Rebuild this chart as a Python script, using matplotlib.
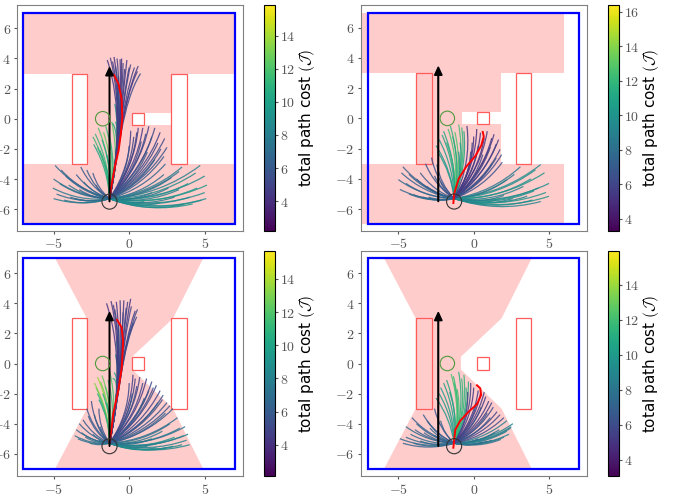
import numpy as np
import matplotlib
matplotlib.use("Agg")
from matplotlib import pyplot as plt
from matplotlib.path import Path
from matplotlib.patches import PathPatch, Rectangle, Circle, Polygon
from matplotlib.colors import Normalize
from matplotlib.cm import ScalarMappable
from matplotlib.ticker import FuncFormatter

plt.rcParams["mathtext.fontset"] = "cm"

# common start of every rollout
start = (-1.3, -5.3)

# rollouts going up through the gap share their bend points (c1x, c1y, c2x, c2y)
bends = {
    "up":   (-0.7, -2.5, -0.5, 1.0),
    "neck": (-0.9, -3.0, -0.6, -1.0),
}
# the fans are simple arcs, bowed sideways by this fraction of their length
bows = {"green": -0.08, "rup": -0.1, "rlow": -0.1, "llow": 0.1}

# rollout end points and costs (x, y, cost), grouped by family
# ---- top left ----
tl_up = [(-1.45, 3.9, 4.4), (-1.25, 4.05, 4.6), (-1.0, 4.1, 4.3), (-0.8, 4.0, 4.8), (-0.6, 3.95, 4.5),
         (-0.4, 3.7, 5.0), (-0.15, 3.9, 4.4), (0.1, 3.6, 4.7), (0.35, 3.4, 4.9), (0.55, 3.15, 4.6),
         (0.75, 3.0, 5.2), (-0.9, 3.5, 5.6), (-0.3, 3.3, 4.8), (-1.1, 3.8, 4.6), (-0.5, 4.0, 4.3),
         (0.0, 3.4, 5.0), (0.6, 3.5, 4.7)]
tl_neck = [(-0.8, 2.4, 8.5), (-0.55, 1.6, 9.0), (-0.95, 1.0, 9.6), (-0.6, 0.4, 8.8), (-1.1, -0.3, 10.0),
           (-0.7, 2.8, 7.8), (-0.85, 1.8, 9.4), (-0.45, 0.9, 8.2), (-0.9, -0.2, 10.4)]
tl_green = [(-2.25, -1.0, 11.2), (-2.05, -0.6, 12.0), (-1.8, -1.4, 10.6), (-1.55, -0.5, 11.6),
            (-2.35, -1.7, 10.2), (-1.95, -2.1, 9.8), (-1.35, -1.0, 11.0), (-1.15, -0.2, 12.4),
            (-2.1, -1.9, 10.8), (-1.7, -0.9, 12.6), (-1.5, -2.4, 10.4), (-2.4, -1.2, 11.4)]
tl_rup = [(0.1, -0.8, 4.8), (0.5, -0.9, 5.0), (0.9, -0.6, 4.6), (1.3, -0.5, 4.9), (1.7, -0.6, 5.2),
          (2.05, -0.9, 5.0), (2.35, -1.3, 5.4), (2.5, -1.9, 5.8), (0.8, -1.5, 5.3), (1.5, -1.2, 5.6),
          (2.3, -2.5, 6.2), (1.2, -2.2, 6.0), (0.3, -1.2, 5.1), (0.6, -0.6, 4.7), (1.1, -1.0, 5.3),
          (1.9, -1.6, 5.5), (2.1, -2.0, 5.9), (0.0, -1.8, 5.7), (1.7, -2.7, 6.4), (2.4, -3.0, 6.6)]
tl_rlow = [(4.7, -3.1, 8.2), (5.0, -3.8, 8.8), (5.15, -4.4, 9.4), (5.0, -4.9, 9.0), (4.8, -5.4, 8.4),
           (4.2, -5.65, 9.8), (3.6, -5.7, 8.6), (3.0, -5.2, 8.0), (2.6, -4.6, 7.6), (3.9, -4.3, 9.2),
           (4.4, -3.6, 8.9), (2.0, -5.6, 8.3), (1.0, -5.5, 7.8), (2.3, -3.7, 7.2), (3.3, -3.5, 7.5),
           (4.5, -4.6, 9.6), (4.0, -5.2, 8.7), (3.3, -4.7, 8.1), (2.8, -3.9, 7.4), (1.5, -4.9, 7.7),
           (5.1, -5.3, 9.1), (3.5, -3.2, 7.9)]
tl_llow = [(-4.9, -3.1, 7.0), (-4.5, -3.4, 6.6), (-5.0, -4.0, 7.4), (-5.05, -4.6, 7.8), (-4.8, -5.0, 7.2),
           (-4.3, -5.4, 7.6), (-3.6, -5.3, 6.8), (-3.5, -3.7, 6.4), (-3.0, -4.2, 6.9), (-2.6, -4.8, 7.1),
           (-4.0, -4.4, 7.5), (-3.2, -3.2, 6.2), (-2.4, -3.6, 6.0), (-4.6, -4.3, 7.3), (-4.2, -3.8, 6.8),
           (-3.9, -5.2, 7.0), (-3.3, -4.7, 6.5), (-2.8, -3.4, 6.3), (-5.0, -5.3, 7.7), (-2.2, -4.4, 6.1)]
tl_red_x = [-1.3, -1.15, -0.95, -0.7, -0.55, -0.45, -0.5, -0.7, -1.0]
tl_red_y = [-5.2, -4.3, -3.2, -2.1, -1.0, 0.1, 1.3, 2.3, 2.9]

# ---- top right ----
tr_green = [(-1.55, -0.5, 11.8), (-1.0, -0.4, 12.4), (-2.0, -0.85, 11.2), (-0.65, -0.85, 11.0),
            (-2.3, -1.4, 10.6), (-1.25, -0.9, 12.8), (-1.8, -1.6, 11.6), (-2.4, -2.2, 10.2),
            (-0.9, -1.6, 10.8), (-1.4, -1.2, 11.4), (-2.1, -1.1, 11.0), (-0.8, -0.6, 12.0),
            (-1.7, -0.7, 12.6), (-2.5, -1.8, 10.4), (-1.0, -2.2, 10.0)]
tr_rup = [(0.0, -1.2, 5.2), (0.45, -0.95, 5.0), (0.9, -0.85, 5.4), (1.35, -1.05, 5.6), (1.65, -1.4, 5.9),
          (1.75, -2.05, 6.2), (-0.45, -0.5, 5.6), (1.9, -2.9, 6.6), (0.3, -1.8, 5.8), (1.1, -1.9, 6.0),
          (-0.2, -2.2, 6.4), (1.5, -2.6, 6.8), (0.2, -0.7, 5.1), (0.7, -1.3, 5.3), (1.2, -1.3, 5.5),
          (1.5, -1.7, 5.7), (1.85, -2.4, 6.3), (-0.1, -1.6, 5.9), (0.6, -2.4, 6.1), (1.2, -3.0, 6.7)]
tr_rlow = [(4.45, -3.05, 9.6), (4.7, -3.6, 10.2), (5.0, -4.3, 9.8), (5.0, -5.15, 10.4), (4.45, -5.5, 9.4),
           (3.55, -5.15, 9.0), (3.1, -3.2, 8.6), (2.2, -4.05, 8.8), (3.8, -4.0, 9.9), (2.6, -5.3, 9.2),
           (1.5, -5.4, 8.4), (4.0, -4.8, 10.0), (4.3, -4.6, 9.7), (4.8, -4.9, 10.3), (3.3, -4.5, 9.3),
           (2.7, -3.7, 8.7), (2.0, -5.1, 8.9), (3.9, -5.4, 9.5), (4.1, -3.4, 9.9)]
tr_llow = [(-4.7, -3.2, 7.4), (-5.0, -4.05, 7.8), (-4.9, -4.7, 7.6), (-4.0, -5.05, 8.0), (-3.1, -4.5, 7.2),
           (-3.55, -3.6, 7.0), (-2.45, -3.05, 6.8), (-4.3, -3.7, 7.5), (-3.4, -5.2, 7.9), (-2.2, -4.2, 7.1),
           (-2.8, -2.6, 6.6), (-4.5, -4.3, 7.7), (-3.8, -4.0, 7.3), (-4.3, -5.0, 7.9), (-3.0, -5.2, 7.6),
           (-2.6, -3.8, 6.9), (-3.2, -3.0, 6.7), (-4.8, -3.6, 7.5)]
tr_red_x = [-1.35, -1.3, -1.0, -0.5, 0.1, 0.5, 0.67, 0.6]
tr_red_y = [-5.6, -5.0, -4.0, -3.2, -2.5, -1.8, -1.2, -0.9]

# ---- bottom left ----
bl_up = [(-1.5, 4.0, 4.2), (-1.2, 4.15, 4.5), (-0.85, 4.1, 4.3), (-0.6, 4.2, 4.7), (-0.35, 4.2, 4.4),
         (-0.1, 4.1, 4.6), (0.15, 3.8, 4.9), (0.4, 3.5, 4.5), (0.5, 3.1, 5.1), (-0.95, 3.6, 5.4),
         (-0.4, 3.4, 4.8), (0.3, 2.7, 5.0), (-1.05, 3.9, 4.5), (-0.2, 3.7, 4.9), (0.1, 4.3, 4.4),
         (0.55, 3.6, 5.2)]
bl_neck = [(-0.75, 2.0, 8.4), (-0.5, 1.2, 9.2), (-0.9, 0.6, 9.8), (-0.6, 0.0, 8.8), (-1.0, -0.6, 10.2),
           (-0.7, 2.6, 8.0), (-0.4, 0.6, 9.0), (-0.85, 1.5, 9.5), (-1.1, -1.0, 10.6)]
bl_green = [(-2.1, -0.9, 13.6), (-1.9, -1.2, 12.8), (-1.6, -1.5, 11.6), (-2.2, -1.6, 12.2),
            (-1.75, -2.0, 10.8), (-1.4, -1.1, 11.2), (-2.0, -2.4, 10.0), (-1.3, -0.5, 11.8),
            (-2.3, -1.3, 13.2), (-1.8, -0.8, 12.4), (-1.5, -2.6, 10.4), (-2.1, -2.0, 11.0)]
bl_rup = [(0.25, -0.75, 4.6), (0.7, -0.9, 4.8), (1.15, -1.0, 4.5), (1.5, -1.2, 5.0), (1.8, -1.45, 5.2),
          (2.05, -1.8, 4.9), (2.25, -2.1, 5.4), (2.5, -2.6, 5.7), (2.9, -3.0, 6.0), (0.5, -1.5, 5.3),
          (1.3, -1.8, 5.6), (1.9, -2.6, 6.2), (0.0, -1.3, 5.1), (0.4, -1.0, 4.7), (0.9, -1.3, 5.0),
          (1.6, -1.6, 5.2), (2.2, -2.4, 5.5), (2.7, -2.8, 5.8), (0.2, -2.0, 5.9), (1.0, -2.3, 6.0),
          (2.4, -3.3, 6.4)]
bl_rlow = [(3.8, -5.1, 8.2), (3.5, -5.4, 8.6), (3.35, -4.3, 7.8), (2.5, -5.6, 8.9), (1.8, -5.6, 8.4),
           (3.0, -4.9, 9.2), (3.9, -4.7, 8.0), (2.7, -4.0, 7.4), (3.2, -3.6, 7.0), (1.2, -5.5, 7.9),
           (2.2, -4.5, 7.6), (4.0, -5.4, 8.5), (3.6, -4.8, 8.1), (2.9, -5.5, 8.7), (2.3, -5.2, 8.3),
           (1.5, -5.0, 7.7), (3.7, -4.2, 7.3)]
bl_llow = [(-3.5, -4.4, 6.6), (-3.05, -3.75, 6.0), (-3.15, -4.6, 7.0), (-2.6, -5.3, 7.4), (-2.0, -5.1, 6.8),
           (-2.8, -3.0, 5.8), (-3.4, -5.0, 7.2), (-2.5, -2.5, 5.5), (-2.3, -3.4, 6.2), (-1.9, -4.2, 6.5),
           (-3.3, -4.0, 6.4), (-2.9, -4.9, 7.1), (-2.4, -4.7, 6.9), (-2.7, -3.5, 6.1), (-3.6, -4.8, 7.3),
           (-2.0, -3.0, 5.6)]
bl_red_x = [-1.3, -1.2, -1.05, -0.72, -0.48, -0.4, -0.5, -0.8]
bl_red_y = [-5.2, -4.6, -3.3, -1.8, -0.2, 1.5, 2.4, 2.9]

# ---- bottom right ----
br_green = [(-1.0, -0.55, 11.2), (-1.35, -0.85, 11.8), (-1.8, -1.1, 10.8), (-0.65, -0.75, 11.4),
            (-2.2, -1.6, 10.4), (-0.35, -1.2, 11.0), (-1.6, -1.9, 10.6), (-2.5, -2.3, 10.0),
            (-1.1, -1.7, 12.0), (-0.8, -1.0, 11.6), (-1.5, -0.7, 12.2), (-2.0, -1.3, 10.6),
            (-0.5, -1.6, 11.2), (-1.3, -1.3, 11.8), (-2.3, -2.0, 10.2)]
br_rup = [(0.0, -1.6, 5.2), (0.45, -2.0, 5.0), (1.0, -2.5, 5.4), (1.55, -3.2, 5.8), (2.0, -3.6, 6.2),
          (-0.2, -1.3, 5.6), (0.7, -1.9, 5.3), (1.3, -2.9, 6.0), (0.2, -2.6, 6.4), (0.9, -3.3, 6.6),
          (0.3, -1.8, 5.1), (0.8, -2.2, 5.2), (1.2, -2.6, 5.5), (1.75, -3.4, 6.0), (0.5, -2.9, 6.3),
          (1.1, -3.6, 6.5), (-0.4, -1.9, 5.7)]
br_rlow = [(2.45, -4.3, 8.4), (2.35, -4.7, 8.8), (1.8, -5.05, 8.2), (0.9, -5.15, 7.8), (2.2, -3.8, 8.6),
           (2.6, -4.0, 9.0), (1.4, -4.6, 8.0), (0.3, -5.0, 7.6), (2.2, -4.5, 8.6), (2.0, -4.9, 8.3),
           (1.2, -5.1, 8.0), (2.5, -4.2, 8.9), (1.7, -4.4, 8.1), (0.6, -5.2, 7.7)]
br_llow = [(-4.7, -5.3, 7.2), (-4.2, -4.7, 7.6), (-4.1, -3.6, 7.0), (-3.35, -3.4, 6.8), (-2.9, -4.3, 7.4),
           (-3.55, -5.15, 7.8), (-2.6, -3.0, 6.6), (-3.8, -4.0, 7.3), (-2.2, -3.8, 6.9), (-4.5, -4.2, 7.5),
           (-4.5, -4.9, 7.4), (-3.9, -4.4, 7.1), (-3.1, -3.8, 6.9), (-4.0, -5.3, 7.7), (-2.6, -4.8, 7.2),
           (-3.3, -4.6, 7.0), (-4.9, -5.0, 7.5)]
br_red_x = [-1.35, -1.33, -1.22, -0.89, -0.33, 0.22, 0.49, 0.44, 0.22]
br_red_y = [-5.6, -5.4, -4.4, -3.8, -3.2, -2.7, -2.1, -1.65, -1.45]

# colour ranges of the four colorbars
cost_ranges = [(2.2, 15.85), (3.3, 16.4), (2.1, 15.7), (3.05, 15.95)]

# hourglass-shaped safe set (bottom row)
hour_x = [-4.9, 4.9, 2.9, 0.2, 0.2, 2.9, 4.9, -4.9, -2.8, -2.8]
hour_y = [7.0, 7.0, 3.0, 0.45, -0.4, -3.0, -7.0, -7.0, -3.0, 3.0]

# obstacles (x0, y0, w, h)
obstacles = [(-3.8, -3.0, 1.0, 6.0), (2.8, -3.0, 1.0, 6.0), (0.2, -0.4, 0.8, 0.8)]
goal = (-1.75, 0.0)
robot = (-1.3, -5.5)

W, H = 678, 498
fig = plt.figure(figsize=(W / 100, H / 100), dpi=100)

pink = "#ffcccc"
cmap = plt.get_cmap("viridis")
tickfmt = FuncFormatter(lambda v, p: "$%g$" % v)


def draw_safe_box(ax, shift):
    ax.add_patch(Rectangle((-7 + shift, -7), 14, 14, color=pink, lw=0, zorder=0))
    for x0, y0, w, h in [(-7.0, -3, 4.2, 6), (2.8, -3, 4.2, 6), (0.2, -0.4, 2.6, 0.8)]:
        ax.add_patch(Rectangle((x0 + shift, y0), w, h, color="white", lw=0, zorder=0.5))


def draw_hourglass(ax, shift):
    pts = np.column_stack([np.array(hour_x) + shift, hour_y])
    ax.add_patch(Polygon(pts, closed=True, color=pink, lw=0, zorder=0))


def rollout_path(fam, x, y):
    s = np.array(start)
    e = np.array([x, y])
    if fam in bends:
        b = bends[fam]
        c1, c2 = (b[0], b[1]), (b[2], b[3])
    else:
        d = e - s
        n = np.array([-d[1], d[0]])
        c1 = s + d / 3 + bows[fam] * n
        c2 = s + 2 * d / 3 + bows[fam] * n
    return Path([s, c1, c2, e], [Path.MOVETO, Path.CURVE4, Path.CURVE4, Path.CURVE4])


def draw_panel(ax, cax, families, red_x, red_y, crange, arrow_x, region, shift, xlim, ylim):
    if region == "box":
        draw_safe_box(ax, shift)
    else:
        draw_hourglass(ax, shift)

    for x0, y0, w, h in obstacles:
        ax.add_patch(Rectangle((x0, y0), w, h, fill=False, ec="#ff5c5c", lw=0.9, zorder=1))

    norm = Normalize(*crange)
    for fam, rollouts in families.items():
        for x, y, c in rollouts:
            ax.add_patch(PathPatch(rollout_path(fam, x, y), fc="none", ec=cmap(norm(c)),
                                   lw=0.9, alpha=0.85, zorder=2))

    ax.plot(red_x, red_y, color="red", lw=1.4, zorder=4)
    ax.arrow(arrow_x, -5.5, 0, 8.9, width=0.04, head_width=0.5, head_length=0.55,
             length_includes_head=True, color="black", zorder=5)
    ax.add_patch(Circle(robot, 0.5, fill=False, ec="#333333", lw=0.8, zorder=5))
    ax.add_patch(Circle(goal, 0.48, fill=False, ec="#4f9a3c", lw=0.8, zorder=5))
    ax.add_patch(Rectangle((-7, -7), 14, 14, fill=False, ec="blue", lw=1.6, zorder=6))

    ax.set_xlim(*xlim)
    ax.set_ylim(*ylim)
    ax.set_xticks([-5, 0, 5])
    ax.set_yticks([-6, -4, -2, 0, 2, 4, 6])
    ax.xaxis.set_major_formatter(tickfmt)
    ax.yaxis.set_major_formatter(tickfmt)
    ax.tick_params(labelsize=10, colors="#555555", length=2.5, pad=2)
    for s in ax.spines.values():
        s.set_color("#808080")

    cb = fig.colorbar(ScalarMappable(norm=norm, cmap=cmap), cax=cax)
    cb.ax.yaxis.set_major_formatter(tickfmt)
    cb.ax.tick_params(labelsize=10, colors="#555555", length=2.5, pad=1)
    cb.outline.set_linewidth(0.8)
    cb.set_label(r"total path cost $(\mathcal{J})$", fontsize=11, labelpad=1.5)


def frac(l, t, w, h):
    return [l / W, (H - t - h) / H, w / W, h / H]


ax1 = fig.add_axes(frac(17.3, 5, 226, 226))
ax2 = fig.add_axes(frac(360.7, 5, 226, 226))
ax3 = fig.add_axes(frac(17.3, 250.7, 226, 225.6))
ax4 = fig.add_axes(frac(360.7, 250.7, 226, 225.6))
cax1 = fig.add_axes(frac(264, 5, 11, 226))
cax2 = fig.add_axes(frac(607.7, 5, 11, 226))
cax3 = fig.add_axes(frac(264, 250.7, 11, 225.6))
cax4 = fig.add_axes(frac(607.7, 250.7, 11, 225.6))

draw_panel(ax1, cax1, {"llow": tl_llow, "rlow": tl_rlow, "green": tl_green, "neck": tl_neck,
                       "rup": tl_rup, "up": tl_up},
           tl_red_x, tl_red_y, cost_ranges[0], -1.3, "box", 0.0, (-7.4, 7.55), (-7.45, 7.55))
draw_panel(ax2, cax2, {"llow": tr_llow, "rlow": tr_rlow, "green": tr_green, "rup": tr_rup},
           tr_red_x, tr_red_y, cost_ranges[1], -2.35, "box", -1.0, (-7.5, 7.5), (-7.45, 7.5))
draw_panel(ax3, cax3, {"llow": bl_llow, "rlow": bl_rlow, "green": bl_green, "neck": bl_neck,
                       "rup": bl_rup, "up": bl_up},
           bl_red_x, bl_red_y, cost_ranges[2], -1.3, "hour", 0.0, (-7.4, 7.55), (-7.5, 7.5))
draw_panel(ax4, cax4, {"llow": br_llow, "rlow": br_rlow, "green": br_green, "rup": br_rup},
           br_red_x, br_red_y, cost_ranges[3], -2.35, "hour", -1.05, (-7.5, 7.5), (-7.5, 7.5))

fig.savefig("out.png", dpi=100)
